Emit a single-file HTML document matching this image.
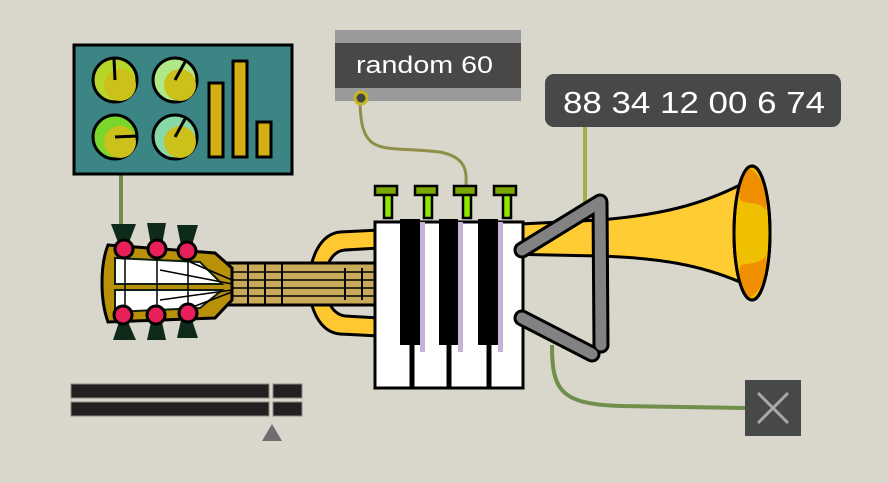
<!DOCTYPE html>
<html><head><meta charset="utf-8"><style>html,body{margin:0;padding:0;background:#d9d6cb}svg{display:block}</style></head>
<body>
<svg width="888" height="483" viewBox="0 0 888 483" xmlns="http://www.w3.org/2000/svg">
<rect width="888" height="483" fill="#d9d6cb"/>
<!-- cables -->
<path d="M121 174 V232" stroke="#6f8f4a" stroke-width="4" fill="none"/>
<path d="M360 97 C360 160 380 145 440 152 C470 158 466 175 466 190" stroke="#8f8f4a" stroke-width="3" fill="none"/>
<path d="M585 127 V215" stroke="#9db040" stroke-width="4" fill="none"/>
<path d="M552 345 C552 390 560 404 620 406 L746 408" stroke="#6f8f4a" stroke-width="4" fill="none"/>
<!-- panel -->
<rect x="74" y="45" width="218" height="129" fill="#3c8585" stroke="#000" stroke-width="3"/>
<g stroke="#000" stroke-width="3">
<circle cx="115" cy="80" r="22" fill="#b7d62a"/><circle cx="175" cy="80" r="22" fill="#b0e888"/>
<circle cx="115" cy="137" r="22" fill="#7ad62a"/><circle cx="175" cy="137" r="22" fill="#88d8a8"/>
</g>
<g fill="#ccc01a"><circle cx="120" cy="85" r="16"/><circle cx="180" cy="85" r="16"/><circle cx="120" cy="142" r="16"/><circle cx="180" cy="142" r="16"/></g>
<g stroke="#000" stroke-width="3"><line x1="115" y1="80" x2="114" y2="59"/><line x1="175" y1="80" x2="185" y2="62"/><line x1="115" y1="137" x2="137" y2="136"/><line x1="175" y1="137" x2="185" y2="119"/></g>
<g fill="#d4ae12" stroke="#000" stroke-width="3"><rect x="209" y="83" width="14" height="74"/><rect x="233" y="61" width="14" height="96"/><rect x="257" y="122" width="14" height="35"/></g>
<!-- random 60 -->
<rect x="335" y="30" width="186" height="13" fill="#9a9a9c"/>
<rect x="335" y="43" width="186" height="45" fill="#4a4747"/>
<rect x="335" y="88" width="186" height="13" fill="#9a9a9c"/>
<circle cx="361" cy="98" r="6" fill="#444" stroke="#c8b820" stroke-width="3"/>
<text x="356" y="73" font-family="Liberation Sans, sans-serif" font-size="24" fill="#fff" textLength="137" lengthAdjust="spacingAndGlyphs">random 60</text>
<!-- number box -->
<rect x="545" y="74" width="296" height="53" rx="9" fill="#474848"/>
<text x="563" y="113" font-family="Liberation Sans, sans-serif" font-size="31" fill="#fff" textLength="262" lengthAdjust="spacingAndGlyphs">88 34 12 00 6 74</text>
<!-- trumpet U loop -->
<path d="M380 230 L340 232 C300 236 298 330 340 334 L380 336 L380 318 L345 316 C318 312 318 252 345 250 L380 248 Z" fill="#ffc830" stroke="#000" stroke-width="3"/>
<!-- trumpet tube & bell -->
<path d="M500 225 L600 220 C660 215 700 205 740 185 L740 282 C700 265 660 258 600 256 L500 254 Z" fill="#ffcc33" stroke="#000" stroke-width="3"/>
<ellipse cx="752" cy="233" rx="18" ry="67" fill="#f0c000" stroke="#000" stroke-width="3"/>
<path d="M748 168 C760 172 768 190 766 210 C758 200 745 205 740 200 C738 185 740 172 748 168 Z M748 298 C760 294 768 276 766 256 C758 266 745 262 740 266 C738 281 740 294 748 298 Z" fill="#f09000"/>
<ellipse cx="752" cy="233" rx="18" ry="67" fill="none" stroke="#000" stroke-width="3"/>
<!-- guitar neck -->
<rect x="225" y="263" width="155" height="42" fill="#c9a95a" stroke="#000" stroke-width="3"/>
<g stroke="#000" stroke-width="2"><line x1="248" y1="264" x2="248" y2="304"/><line x1="265" y1="264" x2="265" y2="304"/><line x1="282" y1="264" x2="282" y2="304"/><line x1="345" y1="268" x2="345" y2="300"/><line x1="362" y1="268" x2="362" y2="300"/></g>
<g stroke="#000" stroke-width="1.5"><line x1="225" y1="272" x2="380" y2="272"/><line x1="225" y1="280" x2="380" y2="280"/><line x1="225" y1="288" x2="380" y2="288"/><line x1="225" y1="296" x2="380" y2="296"/></g>
<!-- headstock -->
<path d="M108 245 L215 253 L232 268 L232 300 L215 318 L108 322 C100 300 100 265 108 245 Z" fill="#b8900a" stroke="#000" stroke-width="3"/>
<path d="M115 258 L200 262 L222 284 L115 284 Z M115 290 L222 290 L200 308 L115 312 Z" fill="#fff" stroke="#102010" stroke-width="2"/>
<g stroke="#000" stroke-width="1.5"><line x1="125" y1="258" x2="125" y2="312"/><line x1="157" y1="260" x2="157" y2="310"/><line x1="188" y1="262" x2="188" y2="308"/><path d="M190 262 L232 280 M190 308 L232 292 M160 270 L232 284 M160 300 L232 290" fill="none"/></g>
<g fill="#0e2a1a"><path d="M111 224 L136 224 L128 245 L119 245 Z"/><path d="M147 223 L166 223 L162 245 L151 245 Z"/><path d="M177 225 L198 225 L192 245 L181 245 Z"/><path d="M119 322 L128 322 L136 340 L113 340 Z"/><path d="M151 322 L162 322 L166 340 L147 340 Z"/><path d="M181 320 L192 320 L198 338 L177 338 Z"/></g>
<g fill="#e8205a" stroke="#000" stroke-width="3"><circle cx="124" cy="249" r="9"/><circle cx="157" cy="249" r="9"/><circle cx="187" cy="251" r="9"/><circle cx="123" cy="315" r="9"/><circle cx="156" cy="315" r="9"/><circle cx="188" cy="313" r="9"/></g>
<!-- valves -->
<g stroke="#000" stroke-width="2.5"><rect x="384" y="193" width="8" height="25" fill="#90e800"/><rect x="424" y="193" width="8" height="25" fill="#90e800"/><rect x="463" y="193" width="8" height="25" fill="#90e800"/><rect x="503" y="193" width="8" height="25" fill="#90e800"/>
<rect x="375" y="186" width="22" height="9" fill="#7aa800"/><rect x="415" y="186" width="22" height="9" fill="#7aa800"/><rect x="454" y="186" width="22" height="9" fill="#7aa800"/><rect x="494" y="186" width="22" height="9" fill="#7aa800"/></g>
<!-- piano -->
<g fill="#fff" stroke="#000" stroke-width="3"><rect x="375" y="222" width="36" height="166"/><rect x="413" y="222" width="35" height="166"/><rect x="450" y="222" width="38" height="166"/><rect x="490" y="222" width="33" height="166"/></g>
<g fill="#c8b0d8"><rect x="420" y="222" width="5" height="130"/><rect x="458" y="222" width="5" height="130"/><rect x="498" y="222" width="5" height="130"/></g>
<g fill="#000"><rect x="400" y="219" width="20" height="126"/><rect x="439" y="219" width="19" height="126"/><rect x="478" y="219" width="20" height="126"/></g>
<!-- stand -->
<path d="M522 250 L600 202 L601 345 M522 318 L592 354" stroke="#000" stroke-width="17" fill="none" stroke-linejoin="round" stroke-linecap="round"/>
<path d="M522 250 L600 202 L601 345 M522 318 L592 354" stroke="#828282" stroke-width="11" fill="none" stroke-linejoin="round" stroke-linecap="round"/>
<!-- X box -->
<rect x="745" y="380" width="56" height="56" fill="#474848"/>
<path d="M758 393 L788 423 M788 393 L758 423" stroke="#a8a8a8" stroke-width="3"/>
<!-- bars -->
<g fill="#231f20" stroke="#8a8a80" stroke-width="1"><rect x="71" y="384" width="198" height="14"/><rect x="273" y="384" width="29" height="14"/><rect x="71" y="402" width="198" height="14"/><rect x="273" y="402" width="29" height="14"/></g>
<path d="M262 441 L272 424 L282 441 Z" fill="#6e6e70"/>
</svg>
</body></html>
